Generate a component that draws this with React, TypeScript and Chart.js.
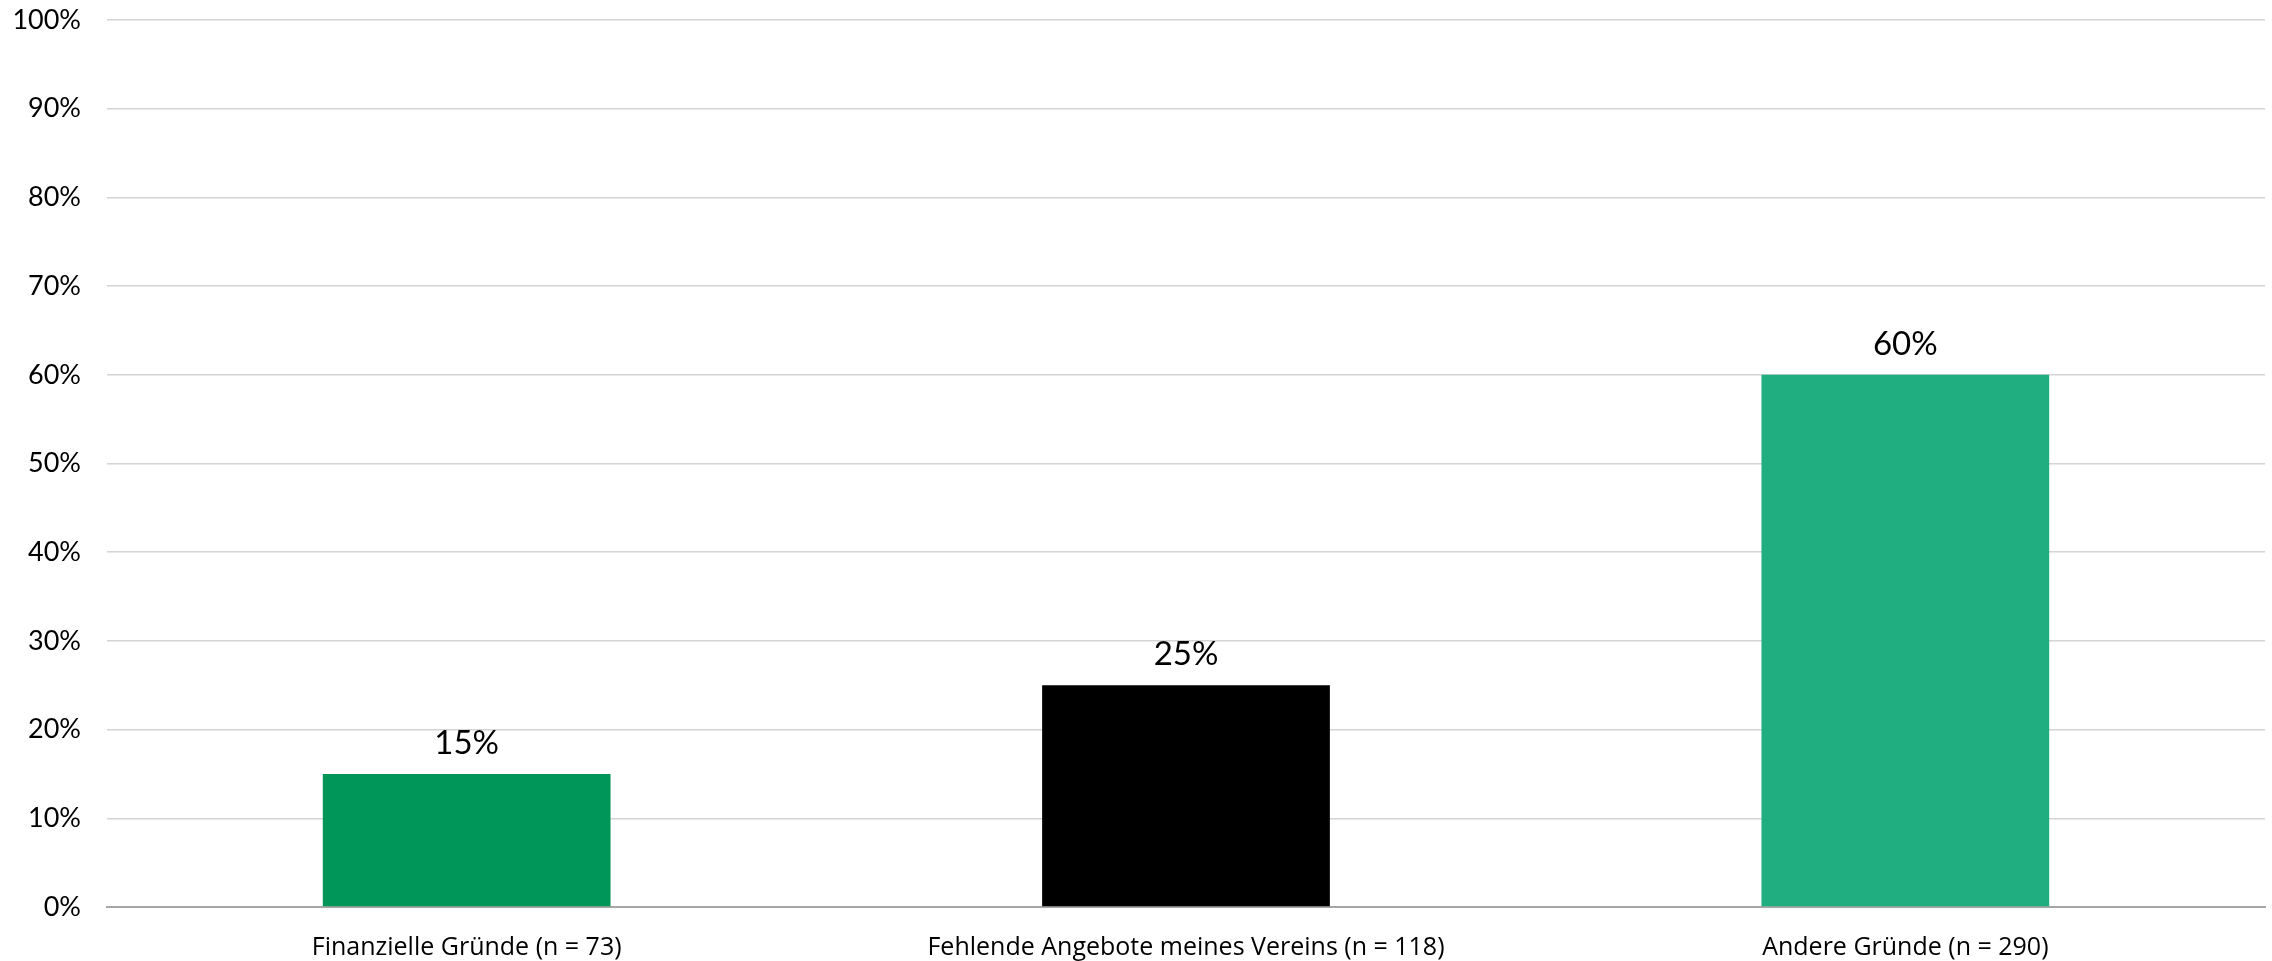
import { useEffect, useRef } from "react";
import { Chart, registerables } from "chart.js";

Chart.register(...registerables);

const categories = [
  "Finanzielle Gründe (n = 73)",
  "Fehlende Angebote meines Vereins (n = 118)",
  "Andere Gründe (n = 290)",
];
const values = [15, 25, 60];
const barColors = ["#00965A", "#000000", "#20AE80"];
const yTicks = [0, 10, 20, 30, 40, 50, 60, 70, 80, 90, 100];

const W = 2272;
const H = 961;

const dataLabelPlugin = {
  id: "dataLabels",
  afterDatasetsDraw(chart: any) {
    const ctx = chart.ctx;
    const meta = chart.getDatasetMeta(0);
    ctx.save();
    ctx.font = "33px Lato";
    ctx.fillStyle = "#000000";
    ctx.textAlign = "center";
    ctx.textBaseline = "alphabetic";
    meta.data.forEach((bar: any, i: number) => {
      const v = chart.data.datasets[0].data[i];
      ctx.fillText(`${v}%`, bar.x, bar.y - 20);
    });
    ctx.restore();
  },
};

export default function App() {
  const ref = useRef<HTMLCanvasElement | null>(null);

  useEffect(() => {
    document.body.style.margin = "0";
    const canvas = ref.current!;
    const chart = new Chart(canvas, {
      type: "bar",
      data: {
        labels: categories,
        datasets: [
          {
            data: values,
            backgroundColor: barColors,
            categoryPercentage: 1,
            barPercentage: 0.4,
          },
        ],
      },
      options: {
        responsive: false,
        animation: false,
        devicePixelRatio: 1,
        layout: { padding: { top: 20, right: 7, left: 0, bottom: 0 } },
        plugins: {
          legend: { display: false },
          tooltip: { enabled: false },
        },
        scales: {
          x: {
            grid: { display: false, drawTicks: false },
            border: { display: true, color: "#a6a6a6", width: 2 },
            ticks: {
              color: "#000000",
              font: { family: "'Open Sans'", size: 25 },
              padding: 26,
              maxRotation: 0,
              autoSkip: false,
            },
            afterFit: (scale: any) => {
              scale.height = 54;
              scale.paddingLeft = 0;
              scale.paddingRight = 0;
            },
          },
          y: {
            min: 0,
            max: 100,
            afterBuildTicks: (scale: any) => {
              scale.ticks = yTicks.map((v) => ({ value: v }));
            },
            grid: {
              color: "#d4d4d4",
              lineWidth: 1.5,
              drawTicks: false,
            },
            border: { display: false },
            ticks: {
              color: "#000000",
              font: { family: "Lato", size: 27 },
              padding: 26,
              callback: (v: any) => `${v}%`,
            },
            afterFit: (scale: any) => {
              scale.width = 107;
              scale.paddingTop = 0;
              scale.paddingBottom = 0;
            },
          },
        },
      },
      plugins: [dataLabelPlugin],
    });
    return () => chart.destroy();
  }, []);

  return (
    <div style={{ position: "absolute", left: 0, top: 0, width: W, height: H, background: "#ffffff" }}>
      <canvas ref={ref} width={W} height={H} style={{ width: W, height: H, display: "block" }} />
    </div>
  );
}
